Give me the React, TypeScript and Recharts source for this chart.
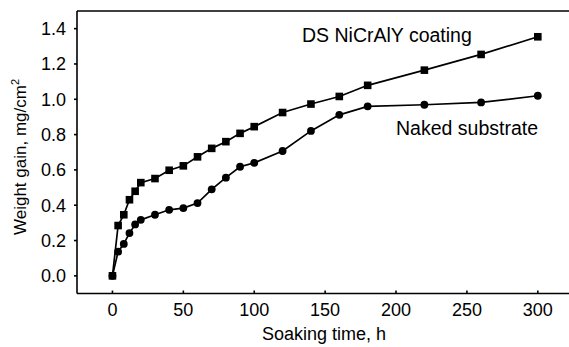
import React from "react";
import { ComposedChart, Line, XAxis, YAxis, ReferenceLine, Customized } from "recharts";

const times = [0, 4, 8, 12, 16, 20, 30, 40, 50, 60, 70, 80, 90, 100, 120, 140, 160, 180, 220, 260, 300];
const coating = [0, 0.285, 0.346, 0.431, 0.479, 0.528, 0.551, 0.598, 0.623, 0.674, 0.722, 0.76, 0.807, 0.845, 0.925, 0.973, 1.016, 1.079, 1.165, 1.254, 1.354];
const naked = [0, 0.137, 0.181, 0.242, 0.291, 0.317, 0.346, 0.374, 0.384, 0.412, 0.49, 0.556, 0.618, 0.64, 0.707, 0.821, 0.912, 0.96, 0.969, 0.982, 1.02];
const xTicks = [0, 50, 100, 150, 200, 250, 300];
const yTicks = [0, 0.2, 0.4, 0.6, 0.8, 1.0, 1.2, 1.4];

const data = times.map((t, i) => ({ t, coating: coating[i], naked: naked[i] }));

const FONT = "'Liberation Sans', Arial, sans-serif";

const SquareDot = (props: any) => {
  const { cx, cy, index } = props;
  if (cx == null || cy == null) return <g key={`s${index}`} />;
  return <rect key={`s${index}`} x={cx - 3.8} y={cy - 3.8} width={7.6} height={7.6} fill="#000" />;
};
const CircleDot = (props: any) => {
  const { cx, cy, index } = props;
  if (cx == null || cy == null) return <g key={`c${index}`} />;
  return <circle key={`c${index}`} cx={cx} cy={cy} r={3.9} fill="#000" />;
};

const Annotations = () => (
  <g fontFamily={FONT} fill="#000">
    <text x={302} y={42} fontSize={19.5}>DS NiCrAlY coating</text>
    <text x={396} y={135} fontSize={19.5}>Naked substrate</text>
    <text x={324} y={340} fontSize={18} textAnchor="middle">Soaking time, h</text>
    <text x={26} y={157} fontSize={17} textAnchor="middle" transform="rotate(-90 26 157)">
      Weight gain, mg/cm<tspan dy={-7} fontSize={11}>2</tspan>
    </text>
  </g>
);

export default function App() {
  return (
    <div style={{ position: "absolute", left: 0, top: 0, width: 569, height: 347, background: "#fff" }}>
      <ComposedChart
        width={569}
        height={347}
        data={data}
        margin={{ top: 11, right: 0, bottom: 0, left: 0 }}
      >
        <XAxis
          dataKey="t"
          type="number"
          domain={[-25, 322]}
          ticks={xTicks}
          allowDataOverflow
          stroke="#000"
          strokeWidth={1.6}
          tickSize={-3}
          tickMargin={13}
          tick={{ fill: "#000", fontSize: 18, fontFamily: FONT }}
          height={53.5}
        />
        <YAxis
          type="number"
          domain={[-0.1, 1.5]}
          ticks={yTicks}
          allowDataOverflow
          width={77}
          stroke="#000"
          strokeWidth={1.6}
          tickSize={3}
          tickMargin={8}
          tickFormatter={(v: number) => v.toFixed(1)}
          tick={{ fill: "#000", fontSize: 18, fontFamily: FONT }}
        />
        <ReferenceLine y={1.5} stroke="#000" strokeWidth={1.6} />
        <Line
          dataKey="coating"
          stroke="#000"
          strokeWidth={1.7}
          dot={SquareDot}
          activeDot={false}
          isAnimationActive={false}
        />
        <Line
          dataKey="naked"
          stroke="#000"
          strokeWidth={1.7}
          dot={CircleDot}
          activeDot={false}
          isAnimationActive={false}
        />
        <Customized component={Annotations} />
      </ComposedChart>
    </div>
  );
}
